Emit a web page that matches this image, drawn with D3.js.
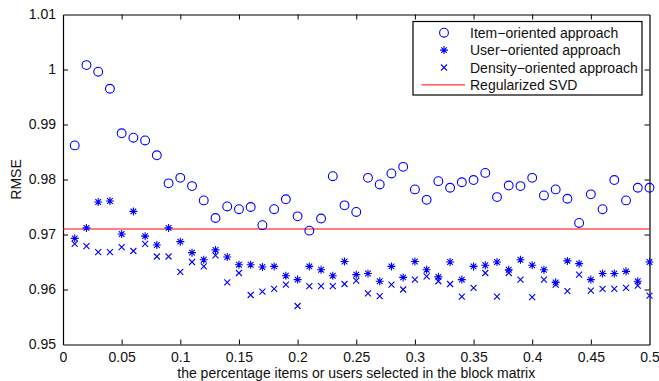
<!DOCTYPE html>
<html>
<head>
<meta charset="utf-8">
<script src="https://cdn.jsdelivr.net/npm/d3@7"></script>
<style>
  body { margin: 0; background: #fff; }
  svg { display: block; font-family: "Liberation Sans", Arial, sans-serif; }
</style>
</head>
<body>
<div id="chart"></div>
<script>
// fraction selected in the block matrix: 0.01 .. 0.50
const fractions = [
  0.01, 0.02, 0.03, 0.04, 0.05, 0.06, 0.07, 0.08, 0.09, 0.10,
  0.11, 0.12, 0.13, 0.14, 0.15, 0.16, 0.17, 0.18, 0.19, 0.20,
  0.21, 0.22, 0.23, 0.24, 0.25, 0.26, 0.27, 0.28, 0.29, 0.30,
  0.31, 0.32, 0.33, 0.34, 0.35, 0.36, 0.37, 0.38, 0.39, 0.40,
  0.41, 0.42, 0.43, 0.44, 0.45, 0.46, 0.47, 0.48, 0.49, 0.50
];

const itemRmse = [
  0.9862, 1.0008, 0.9996, 0.9965, 0.9884, 0.9876, 0.9871, 0.9844, 0.9793, 0.9803,
  0.9788, 0.9762, 0.9730, 0.9751, 0.9746, 0.9750, 0.9717, 0.9746, 0.9764, 0.9733,
  0.9707, 0.9729, 0.9806, 0.9753, 0.9741, 0.9803, 0.9791, 0.9811, 0.9823, 0.9782,
  0.9763, 0.9797, 0.9785, 0.9795, 0.9799, 0.9812, 0.9768, 0.9789, 0.9788, 0.9803,
  0.9771, 0.9782, 0.9765, 0.9721, 0.9773, 0.9746, 0.9799, 0.9762, 0.9785, 0.9785
];

const userRmse = [
  0.9693, 0.9712, 0.9759, 0.9761, 0.9701, 0.9742, 0.9697, 0.9681, 0.9712, 0.9687,
  0.9667, 0.9654, 0.9672, 0.9659, 0.9645, 0.9645, 0.9641, 0.9642, 0.9625, 0.9618,
  0.9642, 0.9636, 0.9625, 0.9651, 0.9627, 0.9629, 0.9615, 0.9642, 0.9622, 0.9651,
  0.9636, 0.9623, 0.9650, 0.9618, 0.9642, 0.9644, 0.9650, 0.9636, 0.9654, 0.9644,
  0.9636, 0.9613, 0.9652, 0.9647, 0.9618, 0.9629, 0.9629, 0.9633, 0.9615, 0.9650
];

const densityRmse = [
  0.9683, 0.9679, 0.9668, 0.9668, 0.9677, 0.9670, 0.9683, 0.9660, 0.9660, 0.9632,
  0.9650, 0.9642, 0.9662, 0.9613, 0.9630, 0.9590, 0.9596, 0.9601, 0.9609, 0.9570,
  0.9606, 0.9606, 0.9606, 0.9610, 0.9616, 0.9593, 0.9588, 0.9609, 0.9600, 0.9618,
  0.9624, 0.9615, 0.9610, 0.9587, 0.9603, 0.9630, 0.9587, 0.9630, 0.9618, 0.9586,
  0.9618, 0.9609, 0.9597, 0.9627, 0.9598, 0.9601, 0.9601, 0.9603, 0.9607, 0.9589
];

const svdRmse = 0.971;

const xTicks = [0, 0.05, 0.1, 0.15, 0.2, 0.25, 0.3, 0.35, 0.4, 0.45, 0.5];
const yTicks = [0.95, 0.96, 0.97, 0.98, 0.99, 1, 1.01];

const legendLabels = [
  'Item\u2212oriented approach',
  'User\u2212oriented approach',
  'Density\u2212oriented approach',
  'Regularized SVD'
];

const width = 659, height = 381;
const margin = { top: 14.5, right: 9.5, bottom: 36.5, left: 63 };
const blue = '#0000ff';
const red = '#ff0000';
const fontSize = '14px';

const svg = d3.select('#chart').append('svg')
  .attr('width', width)
  .attr('height', height);

const x = d3.scaleLinear().domain([0, 0.5]).range([margin.left, width - margin.right]);
const y = d3.scaleLinear().domain([0.95, 1.01]).range([height - margin.bottom, margin.top]);

const fmt = (d) => d3.format('~g')(d);

// EJES (ticks hacia dentro, en los cuatro lados)
const xAxis = svg.append('g')
  .attr('transform', `translate(0,${y(0.95)})`)
  .call(d3.axisBottom(x).tickValues(xTicks).tickFormat(fmt).tickSizeInner(-5).tickSizeOuter(0).tickPadding(8));
const xAxisTop = svg.append('g')
  .attr('transform', `translate(0,${y(1.01)})`)
  .call(d3.axisTop(x).tickValues(xTicks).tickFormat('').tickSizeInner(-5).tickSizeOuter(0));
const yAxis = svg.append('g')
  .attr('transform', `translate(${x(0)},0)`)
  .call(d3.axisLeft(y).tickValues(yTicks).tickFormat(fmt).tickSizeInner(-5).tickSizeOuter(0).tickPadding(7));
const yAxisRight = svg.append('g')
  .attr('transform', `translate(${x(0.5)},0)`)
  .call(d3.axisRight(y).tickValues(yTicks).tickFormat('').tickSizeInner(-5).tickSizeOuter(0));

[xAxis, xAxisTop, yAxis, yAxisRight].forEach((g) => {
  g.select('.domain').attr('stroke', '#000').attr('stroke-width', 1.2);
  g.selectAll('.tick line').attr('stroke', '#000').attr('stroke-width', 1);
  g.selectAll('text').attr('fill', '#111').style('font-size', fontSize).style('font-family', '"Liberation Sans", Arial, sans-serif');
});
xAxis.selectAll('.tick line').filter((d) => d === 0 || d === 0.5).remove();
xAxisTop.selectAll('.tick line').filter((d) => d === 0 || d === 0.5).remove();
yAxis.selectAll('.tick line').filter((d) => d === 0.95 || d === 1.01).remove();
yAxisRight.selectAll('.tick line').filter((d) => d === 0.95 || d === 1.01).remove();

// etiquetas
svg.append('text')
  .attr('x', x(0.25))
  .attr('y', 378)
  .attr('text-anchor', 'middle')
  .style('font-size', fontSize)
  .attr('fill', '#111')
  .text('the percentage items or users selected in the block matrix');

svg.append('text')
  .attr('transform', `translate(21,${y(0.98)}) rotate(-90)`)
  .attr('text-anchor', 'middle')
  .style('font-size', fontSize)
  .attr('fill', '#111')
  .text('RMSE');

// LINEA SVD
svg.append('line')
  .attr('x1', x(0)).attr('x2', x(0.5))
  .attr('y1', y(svdRmse)).attr('y2', y(svdRmse))
  .attr('stroke', red).attr('stroke-width', 1);

const starPath = (s) => {
  const d = s * 0.7071;
  return `M0,${-s}V${s}M${-s},0H${s}M${-d},${-d}L${d},${d}M${-d},${d}L${d},${-d}`;
};
const crossPath = (s) => `M${-s},${-s}L${s},${s}M${-s},${s}L${s},${-s}`;

// PUNTOS
svg.append('g').selectAll('circle')
  .data(fractions.map((f, i) => [f, itemRmse[i]]))
  .enter().append('circle')
  .attr('cx', (d) => x(d[0]))
  .attr('cy', (d) => y(d[1]))
  .attr('r', 4.4)
  .attr('fill', 'none')
  .attr('stroke', blue)
  .attr('stroke-width', 1.1);

svg.append('g').selectAll('path')
  .data(fractions.map((f, i) => [f, userRmse[i]]))
  .enter().append('path')
  .attr('transform', (d) => `translate(${x(d[0])},${y(d[1])})`)
  .attr('d', starPath(4))
  .attr('fill', 'none')
  .attr('stroke', blue)
  .attr('stroke-width', 1.1);

svg.append('g').selectAll('path')
  .data(fractions.map((f, i) => [f, densityRmse[i]]))
  .enter().append('path')
  .attr('transform', (d) => `translate(${x(d[0])},${y(d[1])})`)
  .attr('d', crossPath(3))
  .attr('fill', 'none')
  .attr('stroke', blue)
  .attr('stroke-width', 1.1);

// LEYENDA
const legend = svg.append('g').attr('transform', 'translate(413,21.5)');
legend.append('rect')
  .attr('width', 229).attr('height', 73.5)
  .attr('fill', '#fff').attr('stroke', '#000').attr('stroke-width', 1.2);

legendLabels.forEach((label, i) => {
  const cy = 11.2 + i * 17.4;
  const g = legend.append('g').attr('transform', `translate(0,${cy})`);
  if (i === 0) {
    g.append('circle').attr('cx', 31).attr('r', 4.4)
      .attr('fill', 'none').attr('stroke', blue).attr('stroke-width', 1.1);
  } else if (i === 1) {
    g.append('path').attr('transform', 'translate(31,0)').attr('d', starPath(4))
      .attr('fill', 'none').attr('stroke', blue).attr('stroke-width', 1.1);
  } else if (i === 2) {
    g.append('path').attr('transform', 'translate(31,0)').attr('d', crossPath(3))
      .attr('fill', 'none').attr('stroke', blue).attr('stroke-width', 1.1);
  } else {
    g.append('line').attr('x1', 8.5).attr('x2', 52).attr('stroke', red).attr('stroke-width', 1);
  }
  g.append('text')
    .attr('x', 57)
    .attr('y', 5)
    .style('font-size', fontSize)
    .attr('fill', '#111')
    .text(label);
});
</script>
</body>
</html>
